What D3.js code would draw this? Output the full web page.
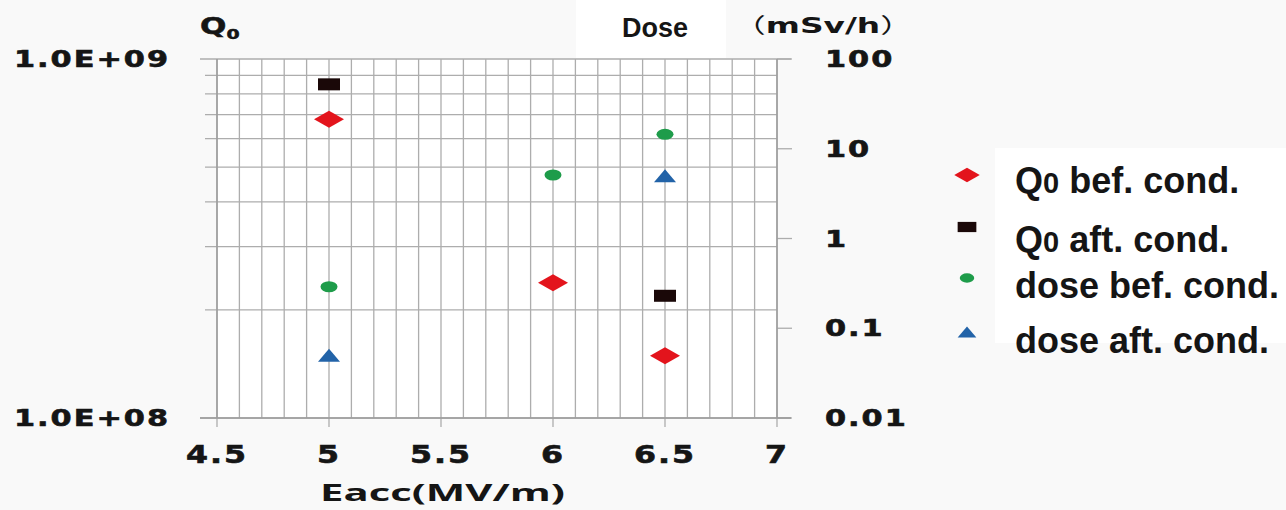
<!DOCTYPE html>
<html>
<head>
<meta charset="utf-8">
<script src="https://cdn.jsdelivr.net/npm/d3@7"></script>
<style>
  html, body { margin: 0; padding: 0; background: #f9f9f9; }
  #canvas { width: 1286px; height: 510px; }
</style>
</head>
<body>
<div id="canvas"></div>
<script>
const width = 1286;
const height = 510;

// data
const xTicks = [4.5, 5, 5.5, 6, 6.5, 7];
const q0Ticks = [1e8, 1e9];
const q0TickLabels = ["1.0E+08", "1.0E+09"];
const doseTicks = [0.01, 0.1, 1, 10, 100];
const doseTickLabels = ["0.01", "0.1", "1", "10", "100"];

const q0BefX = [5, 6, 6.5];
const q0BefY = [6.8e8, 2.38e8, 1.49e8];
const q0AftX = [5, 6.5];
const q0AftY = [8.5e8, 2.19e8];
const doseBefX = [5, 6, 6.5];
const doseBefY = [0.29, 5.1, 14.5];
const doseAftX = [5, 6.5];
const doseAftY = [0.05, 5.0];

const legendNames = ["bef. cond.", "aft. cond.", "dose bef. cond.", "dose aft. cond."];

const svg = d3.select("#canvas")
    .append("svg")
    .attr("width", width)
    .attr("height", height);

const plotLeft = 217, plotRight = 777, plotTop = 59, plotBottom = 418;

let x = d3.scaleLinear().domain([4.5, 7]).range([plotLeft, plotRight]);
let yQ = d3.scaleLog().domain([1e8, 1e9]).range([plotBottom, plotTop]);
let yD = d3.scaleLog().domain([0.01, 100]).range([plotBottom, plotTop]);

// plot background
svg.append("rect")
    .attr("x", plotLeft).attr("y", plotTop)
    .attr("width", plotRight - plotLeft).attr("height", plotBottom - plotTop)
    .attr("fill", "white");

const gridColor = "#adadad";

// vertical grid every 0.1
let vLines = d3.range(0, 26).map(i => 4.5 + i * 0.1);
svg.append("g").selectAll("line")
    .data(vLines)
    .join("line")
    .attr("x1", d => x(d)).attr("x2", d => x(d))
    .attr("y1", plotTop).attr("y2", plotBottom)
    .attr("stroke", gridColor)
    .attr("stroke-width", 1.3);

// horizontal grid on Q0 minor ticks
let hLines = yQ.ticks();
svg.append("g").selectAll("line")
    .data(hLines)
    .join("line")
    .attr("x1", d => (d == 1e8 || d == 1e9) ? plotLeft - 17 : plotLeft - 12)
    .attr("x2", d => (d == 1e9 || d == 1e8) ? plotRight + 14 : plotRight)
    .attr("y1", d => yQ(d)).attr("y2", d => yQ(d))
    .attr("stroke", gridColor)
    .attr("stroke-width", 1.3);

// right axis decade ticks
svg.append("g").selectAll("line")
    .data(doseTicks)
    .join("line")
    .attr("x1", plotRight).attr("x2", plotRight + 15)
    .attr("y1", d => yD(d)).attr("y2", d => yD(d))
    .attr("stroke", gridColor)
    .attr("stroke-width", 1.3);

// bottom axis ticks
svg.append("g").selectAll("line")
    .data(xTicks)
    .join("line")
    .attr("x1", d => x(d)).attr("x2", d => x(d))
    .attr("y1", plotBottom).attr("y2", plotBottom + 9)
    .attr("stroke", gridColor)
    .attr("stroke-width", 1.3);

// axis lines a bit darker
svg.append("line").attr("x1", plotLeft).attr("x2", plotLeft).attr("y1", plotTop).attr("y2", plotBottom)
    .attr("stroke", "#9c9c9c").attr("stroke-width", 1.5);
svg.append("line").attr("x1", plotRight).attr("x2", plotRight).attr("y1", plotTop).attr("y2", plotBottom)
    .attr("stroke", "#9c9c9c").attr("stroke-width", 1.5);
svg.append("line").attr("x1", plotLeft - 17).attr("x2", plotRight + 14).attr("y1", plotBottom).attr("y2", plotBottom)
    .attr("stroke", "#9c9c9c").attr("stroke-width", 1.5);


// stretched chart text (the chart picture is wide)
function wideText(px, py, str, size, anchor, sx) {
    return svg.append("text")
        .attr("transform", "translate(" + px + "," + py + ") scale(" + sx + ",1)")
        .attr("text-anchor", anchor)
        .attr("font-family", "DejaVu Sans")
        .attr("font-weight", "bold")
        .attr("font-size", size)
        .attr("letter-spacing", 1.5)
        .attr("fill", "#151515")
        .attr("stroke", "#151515")
        .attr("stroke-width", 0.6)
        .text(str);
}

for (let i = 0; i < q0Ticks.length; i++) {
    wideText(170, yQ(q0Ticks[i]) + 8, q0TickLabels[i], 23, "end", 1.32);
}
for (let i = 0; i < doseTicks.length; i++) {
    wideText(825, yD(doseTicks[i]) + 8, doseTickLabels[i], 23, "start", 1.32);
}
for (let i = 0; i < xTicks.length; i++) {
    wideText(x(xTicks[i]), 463, String(xTicks[i]), 24, "middle", 1.32);
}

// Q0 title
let qt = svg.append("text")
    .attr("transform", "translate(200,34) scale(1.35,1)")
    .attr("font-family", "DejaVu Sans")
    .attr("font-weight", "bold")
    .attr("font-size", 23)
    .attr("fill", "#151515")
    .attr("stroke", "#151515")
    .attr("stroke-width", 0.5);
qt.append("tspan").text("Q");
qt.append("tspan").attr("font-size", 14).attr("dy", 5).text("0");

// x title
svg.append("text")
    .attr("x", 320).attr("y", 501)
    .attr("font-family", "Open Sans")
    .attr("font-weight", "bold")
    .attr("font-size", 23)
    .attr("textLength", 245)
    .attr("lengthAdjust", "spacingAndGlyphs")
    .attr("fill", "#151515")
    .text("Eacc(MV/m)");

// Dose title box
svg.append("rect")
    .attr("x", 576).attr("y", 0)
    .attr("width", 150).attr("height", 58)
    .attr("fill", "white");
svg.append("text")
    .attr("x", 622).attr("y", 37)
    .attr("font-family", "Liberation Sans")
    .attr("font-weight", "bold")
    .attr("font-size", 27)
    .attr("fill", "#151515")
    .text("Dose");
let unit = svg.append("text")
    .attr("x", 733).attr("y", 33)
    .attr("font-family", "DejaVu Sans")
    .attr("font-weight", "bold")
    .attr("font-size", 21)
    .attr("textLength", 180)
    .attr("lengthAdjust", "spacingAndGlyphs")
    .attr("fill", "#151515");
unit.append("tspan").attr("font-family", "Noto Sans CJK SC").attr("font-weight", "normal").text("（");
unit.append("tspan").text("mSv/h");
unit.append("tspan").attr("font-family", "Noto Sans CJK SC").attr("font-weight", "normal").text("）");


// marker shapes
const redCol = "#e3141c", blackCol = "#1a0808", greenCol = "#1e9c4a", blueCol = "#2263a8";

function marker(g, kind, cx, cy, s) {
    s = s || 1;
    if (kind == "diamond") {
        let w = 15 * s, h = 8.5 * s;
        g.append("path")
            .attr("d", "M" + (cx - w) + "," + cy + "L" + cx + "," + (cy - h) + "L" + (cx + w) + "," + cy + "L" + cx + "," + (cy + h) + "Z")
            .attr("fill", redCol);
    } else if (kind == "square") {
        g.append("rect")
            .attr("x", cx - 11 * s).attr("y", cy - 6 * s)
            .attr("width", 22 * s).attr("height", 12 * s)
            .attr("fill", blackCol);
    } else if (kind == "circle") {
        g.append("ellipse")
            .attr("cx", cx).attr("cy", cy)
            .attr("rx", 8.5 * s).attr("ry", 5.5 * s)
            .attr("fill", greenCol);
    } else {
        let w = 11 * s, h = 6.5 * s;
        g.append("path")
            .attr("d", "M" + (cx - w) + "," + (cy + h) + "L" + cx + "," + (cy - h) + "L" + (cx + w) + "," + (cy + h) + "Z")
            .attr("fill", blueCol);
    }
}

let marks = svg.append("g");
for (let i = 0; i < q0BefX.length; i++) marker(marks, "diamond", x(q0BefX[i]), yQ(q0BefY[i]));
for (let i = 0; i < q0AftX.length; i++) marker(marks, "square", x(q0AftX[i]), yQ(q0AftY[i]));
for (let i = 0; i < doseBefX.length; i++) marker(marks, "circle", x(doseBefX[i]), yD(doseBefY[i]));
for (let i = 0; i < doseAftX.length; i++) marker(marks, "triangle", x(doseAftX[i]), yD(doseAftY[i]));


// legend
svg.append("rect")
    .attr("x", 995).attr("y", 148)
    .attr("width", 291).attr("height", 195)
    .attr("fill", "white");

const legendKinds = ["diamond", "square", "circle", "triangle"];
const markerY = [175, 227, 278, 332];
const textY = [193, 252, 298, 353];
let leg = svg.append("g");
for (let i = 0; i < legendKinds.length; i++) {
    marker(leg, legendKinds[i], 967, markerY[i], 0.85);
    let t = leg.append("text")
        .attr("x", 1015).attr("y", textY[i])
        .attr("font-family", "Liberation Sans")
        .attr("font-weight", "bold")
        .attr("font-size", 36)
        .attr("fill", "#151515");
    if (i < 2) {
        t.append("tspan").text("Q");
        t.append("tspan").attr("font-size", 29).text("0");
        t.append("tspan").text(" " + legendNames[i]);
    } else {
        t.text(legendNames[i]);
    }
}
</script>
</body>
</html>
